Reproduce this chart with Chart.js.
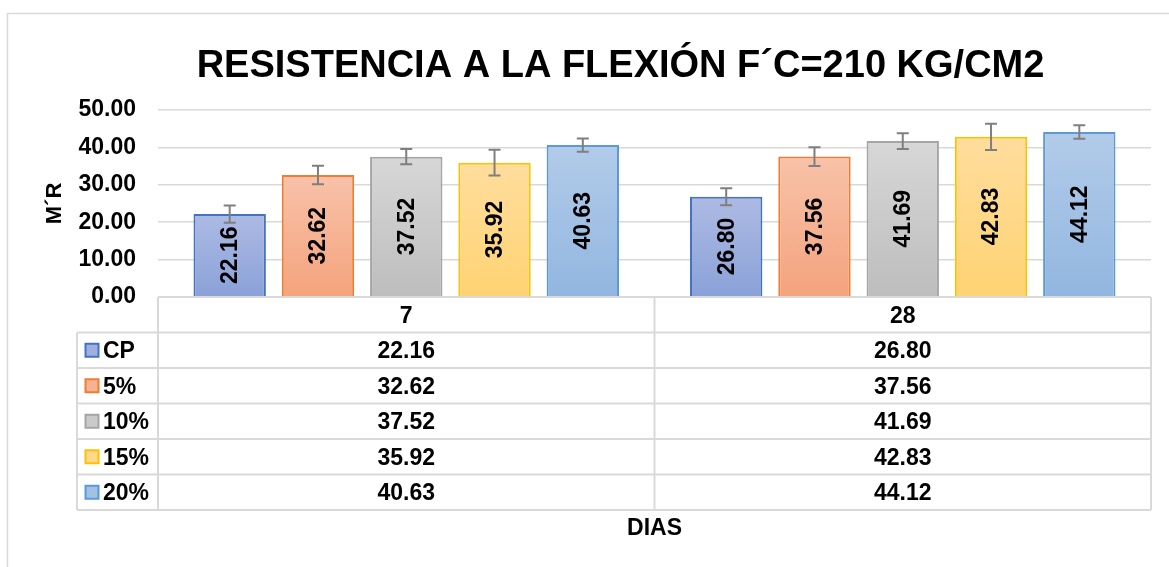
<!DOCTYPE html>
<html>
<head>
<meta charset="utf-8">
<script src="https://cdn.jsdelivr.net/npm/chart.js@4.4.1/dist/chart.umd.min.js"></script>
<style>
  html, body { margin: 0; padding: 0; background: #ffffff; }
  #c { display: block; }
</style>
</head>
<body>
<canvas id="c" width="1169" height="567"></canvas>
<script>
// ---- DATA ----
const chartTitle = 'RESISTENCIA A LA FLEXIÓN F´C=210 KG/CM2';
const yAxisTitle = 'M´R';
const xAxisTitle = 'DIAS';
const categories = ['7', '28'];
const seriesNames = ['CP', '5%', '10%', '15%', '20%'];
const valuesCP = [22.16, 26.80];
const values5 = [32.62, 37.56];
const values10 = [37.52, 41.69];
const values15 = [35.92, 42.83];
const values20 = [40.63, 44.12];
const errorCP = [2.3, 2.3];
const error5 = [2.5, 2.5];
const error10 = [2.05, 2.1];
const error15 = [3.45, 3.5];
const error20 = [1.78, 1.8];
const yTickValues = [0, 10, 20, 30, 40, 50];

// ---- STYLE ----
const FONT = "'Liberation Sans', Arial, sans-serif";
const palette = [
  { top: '#adbbe3', bottom: '#8aa1d8', border: '#4472c4', swatch: '#9fb0de' },
  { top: '#f8c2a9', bottom: '#f4a37d', border: '#ed7d31', swatch: '#f6b394' },
  { top: '#d7d7d7', bottom: '#bdbdbd', border: '#a5a5a5', swatch: '#cacaca' },
  { top: '#ffdd9d', bottom: '#ffd373', border: '#ffc000', swatch: '#ffd98a' },
  { top: '#b2cbe9', bottom: '#92b6e0', border: '#5b9bd5', swatch: '#a3c1e5' }
];
const seriesValues = [valuesCP, values5, values10, values15, values20];
const seriesErrors = [errorCP, error5, error10, error15, error20];

function gradientFill(c) {
  return function (ctx) {
    const chart = ctx.chart;
    if (!chart.chartArea || ctx.type !== 'data' || !chart.scales.y) return c.bottom;
    const ys = chart.scales.y;
    const v = ctx.parsed ? ctx.parsed.y : ctx.raw;
    const yt = ys.getPixelForValue(v);
    const yb = ys.getPixelForValue(0);
    const g = chart.ctx.createLinearGradient(0, yt, 0, yb);
    g.addColorStop(0, c.top);
    g.addColorStop(1, c.bottom);
    return g;
  };
}

const datasets = seriesNames.map((name, i) => ({
  label: name,
  data: seriesValues[i],
  errors: seriesErrors[i],
  backgroundColor: gradientFill(palette[i]),
  borderColor: palette[i].border,
  borderWidth: 2,
  barPercentage: 0.82,
  categoryPercentage: 0.889
}));

const GRID = '#d9d9d9';

// background frame + title
const framePlugin = {
  id: 'frame',
  beforeDraw(chart) {
    const ctx = chart.ctx;
    ctx.save();
    ctx.fillStyle = '#ffffff';
    ctx.fillRect(0, 0, chart.width, chart.height);
    ctx.strokeStyle = GRID;
    ctx.lineWidth = 1.5;
    ctx.beginPath();
    ctx.moveTo(7.5, chart.height);
    ctx.lineTo(7.5, 13.5);
    ctx.lineTo(chart.width, 13.5);
    ctx.stroke();
    ctx.fillStyle = '#000000';
    ctx.font = 'bold 38px ' + FONT;
    ctx.textAlign = 'center';
    ctx.textBaseline = 'alphabetic';
    ctx.fillText(chartTitle, 620.5, 77);
    ctx.restore();
  }
};

// error bars and rotated data labels
const barExtrasPlugin = {
  id: 'barExtras',
  afterDatasetsDraw(chart) {
    const ctx = chart.ctx;
    const ys = chart.scales.y;
    ctx.save();
    // error bars
    ctx.strokeStyle = '#7f7f7f';
    ctx.lineWidth = 2;
    chart.data.datasets.forEach((ds, i) => {
      const meta = chart.getDatasetMeta(i);
      meta.data.forEach((bar, j) => {
        const v = ds.data[j], e = ds.errors[j];
        const yt = ys.getPixelForValue(v + e);
        const yb = ys.getPixelForValue(v - e);
        ctx.beginPath();
        ctx.moveTo(bar.x, yt); ctx.lineTo(bar.x, yb);
        ctx.moveTo(bar.x - 6, yt); ctx.lineTo(bar.x + 6, yt);
        ctx.moveTo(bar.x - 6, yb); ctx.lineTo(bar.x + 6, yb);
        ctx.stroke();
      });
    });
    // labels
    ctx.fillStyle = '#000000';
    ctx.font = 'bold 23px ' + FONT;
    ctx.textAlign = 'center';
    ctx.textBaseline = 'middle';
    chart.data.datasets.forEach((ds, i) => {
      const meta = chart.getDatasetMeta(i);
      meta.data.forEach((bar, j) => {
        const cy = (bar.y + bar.base) / 2;
        ctx.save();
        ctx.translate(bar.x + 1, cy);
        ctx.rotate(-Math.PI / 2);
        ctx.fillText(ds.data[j].toFixed(2), 0, 0);
        ctx.restore();
      });
    });
    ctx.restore();
  }
};

// data table under the plot
const tablePlugin = {
  id: 'dataTable',
  afterDraw(chart) {
    const ctx = chart.ctx;
    const xs = chart.scales.x;
    const area = chart.chartArea;
    const rowH = 35.5;
    const top = area.bottom;
    const left = area.left, right = area.right;
    const labelLeft = 77;
    const nRows = seriesNames.length;
    const bottom = top + rowH * (nRows + 1);
    const mid = (xs.getPixelForValue(0) + xs.getPixelForValue(1)) / 2;
    ctx.save();
    ctx.strokeStyle = GRID;
    ctx.lineWidth = 2;
    ctx.beginPath();
    // header row
    ctx.moveTo(left, top); ctx.lineTo(right, top);
    ctx.moveTo(left, top); ctx.lineTo(left, bottom);
    ctx.moveTo(right, top); ctx.lineTo(right, bottom);
    ctx.moveTo(mid, top); ctx.lineTo(mid, bottom);
    for (let r = 1; r <= nRows + 1; r++) {
      const y = top + rowH * r;
      ctx.moveTo(labelLeft, y); ctx.lineTo(right, y);
    }
    ctx.moveTo(labelLeft, top + rowH); ctx.lineTo(labelLeft, bottom);
    ctx.stroke();

    ctx.fillStyle = '#000000';
    ctx.font = 'bold 23px ' + FONT;
    ctx.textBaseline = 'alphabetic';
    ctx.textAlign = 'center';
    const capOff = 8.2;
    categories.forEach((c, j) => {
      ctx.fillText(c, xs.getPixelForValue(j), top + rowH / 2 + capOff);
    });
    seriesNames.forEach((name, i) => {
      const cy = top + rowH * (i + 1) + rowH / 2;
      // swatch
      ctx.fillStyle = palette[i].swatch;
      ctx.fillRect(85.5, cy - 6.5, 13, 13);
      ctx.strokeStyle = palette[i].border;
      ctx.lineWidth = 2;
      ctx.strokeRect(85.5, cy - 6.5, 13, 13);
      ctx.fillStyle = '#000000';
      ctx.textAlign = 'left';
      ctx.fillText(name, 103, cy + capOff);
      ctx.textAlign = 'center';
      seriesValues[i].forEach((v, j) => {
        ctx.fillText(v.toFixed(2), xs.getPixelForValue(j), cy + capOff);
      });
    });
    ctx.restore();
  }
};

Chart.defaults.font.family = FONT;

new Chart(document.getElementById('c'), {
  type: 'bar',
  data: { labels: categories, datasets },
  options: {
    responsive: false,
    animation: false,
    devicePixelRatio: 1,
    layout: { padding: { left: 0, top: 110, right: 18, bottom: 0 } },
    plugins: {
      legend: { display: false },
      title: { display: false },
      tooltip: { enabled: false }
    },
    scales: {
      x: {
        type: 'category',
        offset: true,
        grid: { display: false },
        border: { display: false },
        ticks: { display: false },
        title: {
          display: true,
          text: xAxisTitle,
          color: '#000000',
          font: { size: 23, weight: 'bold' },
          padding: { top: 0, bottom: 25 }
        },
        afterFit(s) { s.height = 270; }
      },
      y: {
        min: yTickValues[0],
        max: yTickValues[yTickValues.length - 1],
        afterBuildTicks(s) { s.ticks = yTickValues.map(v => ({ value: v })); },
        ticks: {
          callback: v => Number(v).toFixed(2),
          color: '#000000',
          font: { size: 23, weight: 'bold' },
          padding: 22
        },
        grid: { color: GRID, lineWidth: 1.5, drawTicks: false },
        border: { display: false },
        title: {
          display: true,
          text: yAxisTitle,
          color: '#000000',
          font: { size: 22, weight: 'bold' },
          padding: { top: 42, bottom: 0 }
        },
        afterFit(s) { s.width = 158; }
      }
    }
  },
  plugins: [framePlugin, barExtrasPlugin, tablePlugin]
});
</script>
</body>
</html>
